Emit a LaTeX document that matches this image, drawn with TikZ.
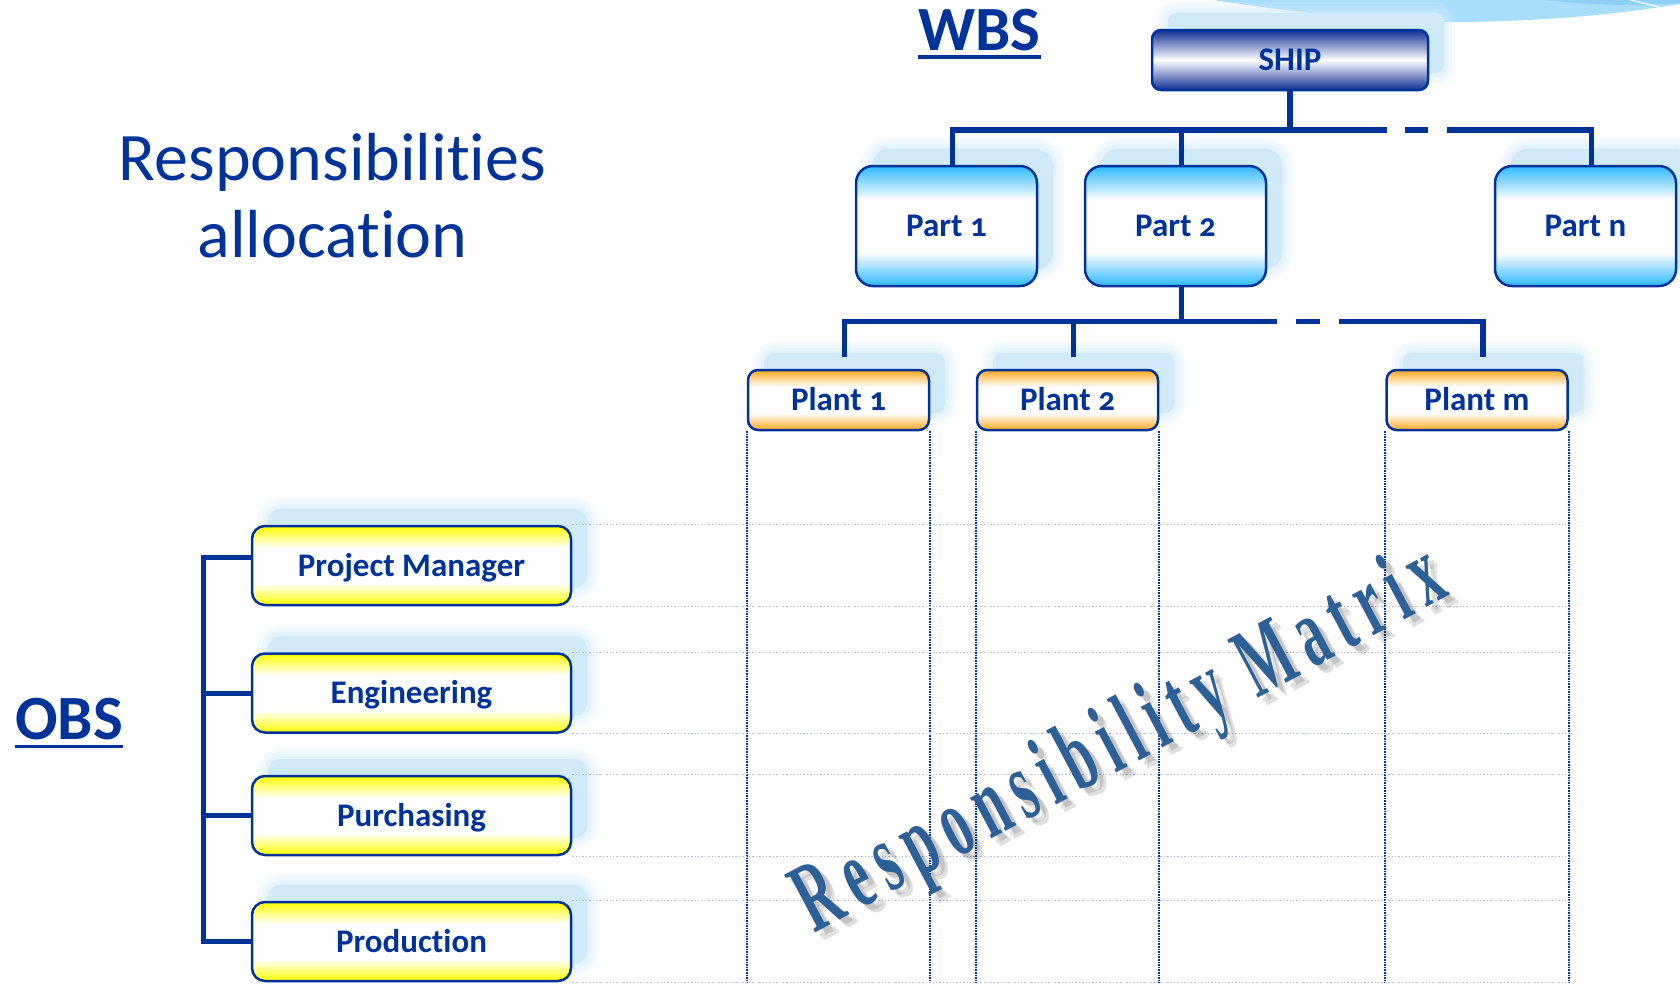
\documentclass[tikz,border=0pt]{standalone}
\usepackage{fontspec}
\usepackage{graphicx}
\setmainfont{Carlito}[Numbers=OldStyle,Ligatures=NoCommon]
\newfontfamily\wordart{Liberation Serif}[LetterSpace=20]
\usetikzlibrary{shadows}
\definecolor{navy}{RGB}{0,51,153}
\definecolor{skyblue}{RGB}{45,185,255}
\definecolor{plantorange}{RGB}{255,168,30}
\definecolor{obsyellow}{RGB}{255,255,0}
\definecolor{shipnavy}{RGB}{15,45,150}
\definecolor{glowblue}{RGB}{208,234,250}
\definecolor{gridblue}{RGB}{170,185,230}
\definecolor{matrixblue}{RGB}{45,96,150}
\definecolor{wave}{RGB}{168,222,250}
\definecolor{wavedark}{RGB}{140,210,246}
\newcommand\bandshade[2]{\pgfdeclareverticalshading{#1}{100bp}{color(0bp)=(#2); color(25bp)=(#2); color(39bp)=(white); color(61bp)=(white); color(75bp)=(#2); color(100bp)=(#2)}}
\bandshade{partband}{skyblue}
\bandshade{plantband}{plantorange}
\bandshade{obsband}{obsyellow}

\begin{document}
\begin{tikzpicture}[x=1pt,y=-1pt,
	glowring/.style={general shadow={draw=glowblue,fill=glowblue,line width=#1,opacity=.22,shadow xshift=16,shadow yshift=-17}},
	glow/.style={glowring=22,glowring=15,glowring=9,glowring=4,general shadow={fill=glowblue,shadow xshift=16,shadow yshift=-17}},
	box/.style={glow,draw=navy,line width=2.5,text=navy,font=\fontsize{33}{40}\selectfont\bfseries,inner sep=0,text height=21pt,text depth=0pt},
	shipbox/.style={box,rounded corners=9,top color=shipnavy,bottom color=shipnavy,middle color=white,minimum width=276,minimum height=60},
	partbox/.style={box,rounded corners=17,shade,shading=partband,minimum width=181,minimum height=120},
	plantbox/.style={box,rounded corners=10,shade,shading=plantband,minimum width=181,minimum height=60},
	obsbox/.style={box,rounded corners=13,shade,shading=obsband,minimum width=319,minimum height=79},
	tree/.style={draw=navy,line width=5.5},
	gridv/.style={draw=navy,line width=1.6,densely dotted},
	gridh/.style={draw=gridblue,line width=1.4,dotted},
	heading/.style={text=navy,font=\fontsize{63}{70}\selectfont\bfseries,inner sep=0,anchor=base},
	matrixtext/.style={font=\wordart\bfseries\fontsize{100}{100}\selectfont,rotate=28,anchor=base,inner sep=0}]
	\useasboundingbox (0,0) rectangle (1680,983);
	\fill[wave] (1213,0) .. controls (1320,16) and (1390,22) .. (1450,22) .. controls (1540,22) and (1620,14) .. (1680,4) -- (1680,0) -- cycle;
	\fill[wavedark] (1545,0) .. controls (1600,6) and (1640,6) .. (1680,3) -- (1680,0) -- cycle;
	\draw[white,line width=1.2] (1630,0) -- (1660,7);
	\node[text=navy,font=\fontsize{68}{77}\selectfont,align=center,anchor=base] (title) at (332.5,257) {Responsibilities\\allocation};
	\node[heading] (wbs) at (979.5,50) {WBS};
	\node[heading] (obs) at (69,739) {OBS};
	\draw[navy,line width=3.5] ([yshift=-6.5]wbs.south west) -- ([yshift=-6.5]wbs.south east);
	\draw[navy,line width=3.5] ([yshift=-7]obs.south west) -- ([yshift=-7]obs.south east);
	\node[shipbox] (ship) at (1290,60) {SHIP};
	\node[partbox] (p1) at (946.5,226) {Part 1};
	\node[partbox] (p2) at (1175.5,226) {Part 2};
	\node[partbox] (pn) at (1585.5,226) {Part n};
	\node[plantbox] (pl1) at (838.5,400) {Plant 1};
	\node[plantbox] (pl2) at (1067.5,400) {Plant 2};
	\node[plantbox] (plm) at (1477,400) {Plant m};
	\node[obsbox] (pm) at (411.5,565.5) {Project Manager};
	\node[obsbox] (eng) at (411.5,693) {Engineering};
	\node[obsbox] (pur) at (411.5,815.5) {Purchasing};
	\node[obsbox] (prod) at (411.5,941.5) {Production};
	\coordinate (bar1) at (1290,130);
	\coordinate (bar2) at (1182,321.5);
	\coordinate (g1a) at (1387,130);
	\coordinate (g1b) at (1405,130);
	\coordinate (g1c) at (1428,130);
	\coordinate (g1d) at (1447,130);
	\coordinate (g2a) at (1277,321.5);
	\coordinate (g2b) at (1296,321.5);
	\coordinate (g2c) at (1320,321.5);
	\coordinate (g2d) at (1339,321.5);
	\coordinate (spine) at (203.5,0);
	\draw[tree] (ship.south) -- (ship.south |- bar1);
	\draw[tree] ([xshift=6]p1.north) |- (g1a);
	\draw[tree] (g1b) -- (g1c);
	\draw[tree] (g1d) -| ([xshift=6]pn.north);
	\draw[tree] ([xshift=6]p2.north) -- ([xshift=6]p2.north |- bar1);
	\draw[tree] ([xshift=6]p2.south) -- ([xshift=6]p2.south |- bar2);
	\draw[tree] ([xshift=6,yshift=12]pl1.north) |- (g2a);
	\draw[tree] (g2b) -- (g2c);
	\draw[tree] (g2d) -| ([xshift=6,yshift=12]plm.north);
	\draw[tree] ([xshift=6,yshift=12]pl2.north) -- ([xshift=6]pl2.north |- bar2);
	\draw[tree,line width=5] ([yshift=8]pm.west) -| (spine |- prod.west) -- (prod.west);
	\draw[tree,line width=5] (eng.west) -- (eng.west -| spine);
	\draw[tree,line width=5] (pur.west) -- (pur.west -| spine);
	\coordinate (floor) at (0,983);
	\foreach \n in {pl1,pl2,plm} {
		\draw[gridv] (\n.south west) -- (\n.south west |- floor);
		\draw[gridv] (\n.south east) -- (\n.south east |- floor);
	}
	\foreach \n in {pm,eng,pur,prod} {
		\draw[gridh] (\n.north east) -- (\n.north east -| plm.east);
		\draw[gridh] (\n.south east) -- (\n.south east -| plm.east);
	}
	\node[matrixtext,text=black,opacity=.12] (rmshade) at (1142,772) {\scalebox{0.55}[1]{Responsibility Matrix}};
	\node[matrixtext,text=black,opacity=.12] (rmblur) at (1139,769) {\scalebox{0.55}[1]{Responsibility Matrix}};
	\node[matrixtext,text=matrixblue] (rm) at (1133,764) {\scalebox{0.55}[1]{Responsibility Matrix}};
\end{tikzpicture}
\end{document}
